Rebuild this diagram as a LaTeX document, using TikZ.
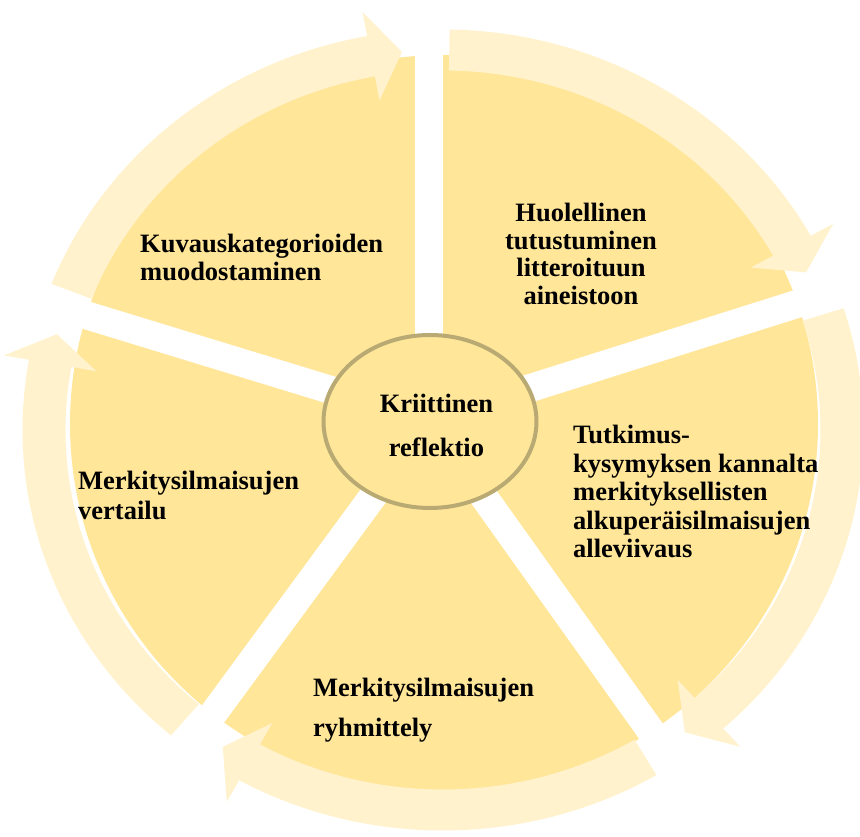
\documentclass[tikz,border=0pt]{standalone}
\usepackage{fontspec}
\setmainfont{Liberation Serif}
\definecolor{pie}{HTML}{FFE699}
\definecolor{band}{HTML}{FFF2CC}
\definecolor{rim}{RGB}{185,170,115}
\newcommand{\cyclearrow}[3]{%
  \fill[band] (#1:420.5pt and 400.5pt)
    arc[start angle=#1, end angle=#2, x radius=420.5pt, y radius=400.5pt]
    -- (#2:446pt and 425pt) -- (#3:399pt and 380pt) -- (#2:352pt and 335pt)
    -- (#2:377.5pt and 359.5pt)
    arc[start angle=#2, end angle=#1, x radius=377.5pt, y radius=359.5pt]
    -- cycle;}
\begin{document}
\begin{tikzpicture}[x=1pt,y=1pt,
  lbl/.style={inner sep=0pt, text=black, font=\bfseries\fontsize{26.5}{27.5}\selectfont},
  gapline/.style={white, line width=28pt}]
\useasboundingbox (0,0) rectangle (860,837);
% pie body
\fill[pie] (444,413) ellipse [x radius=374pt, y radius=369pt];
% gaps between the sectors
\coordinate (O) at (429,417);
\foreach \a in {90,17.5,-54.5,-126.3,163}
  \draw[gapline] (O) -- ++(\a:480pt);
% circular arrows
\begin{scope}[shift={(443,407)}]
  \cyclearrow{158.6}{100.4}{95.9}
  \cyclearrow{89.1}{29}{24.5}
  \cyclearrow{17.7}{-48.2}{-52.7}
  \cyclearrow{-59.5}{-119}{-123.5}
  \cyclearrow{-130.3}{-190.1}{-194.6}
\end{scope}
% hub
\draw[rim, line width=4pt, fill=pie] (430,415.5) ellipse [x radius=106.5pt, y radius=86.5pt];
\node[lbl, align=center, anchor=north, font=\bfseries\fontsize{26.5}{44}\selectfont] (hub) at (436.5,443) {Kriittinen\\reflektio};
% sector texts
\node[lbl, align=left, anchor=north west] (kuv) at (140,603) {Kuvauskategorioiden\\muodostaminen};
\node[lbl, align=center, anchor=north, font=\bfseries\fontsize{26.5}{27.7}\selectfont] (huo) at (581,634) {Huolellinen\\tutustuminen\\litteroituun\\aineistoon};
\node[lbl, align=left, anchor=north west, font=\bfseries\fontsize{26.5}{28.5}\selectfont] (tut) at (573,412) {Tutkimus-\\kysymyksen kannalta\\merkityksellisten\\alkuperäisilmaisujen\\alleviivaus};
\node[lbl, align=left, anchor=north west, font=\bfseries\fontsize{26.5}{30}\selectfont] (ver) at (78,366) {Merkitysilmaisujen\\vertailu};
\node[lbl, align=left, anchor=north west, font=\bfseries\fontsize{26.5}{40}\selectfont] (ryh) at (313,159) {Merkitysilmaisujen\\ryhmittely};
\end{tikzpicture}
\end{document}
